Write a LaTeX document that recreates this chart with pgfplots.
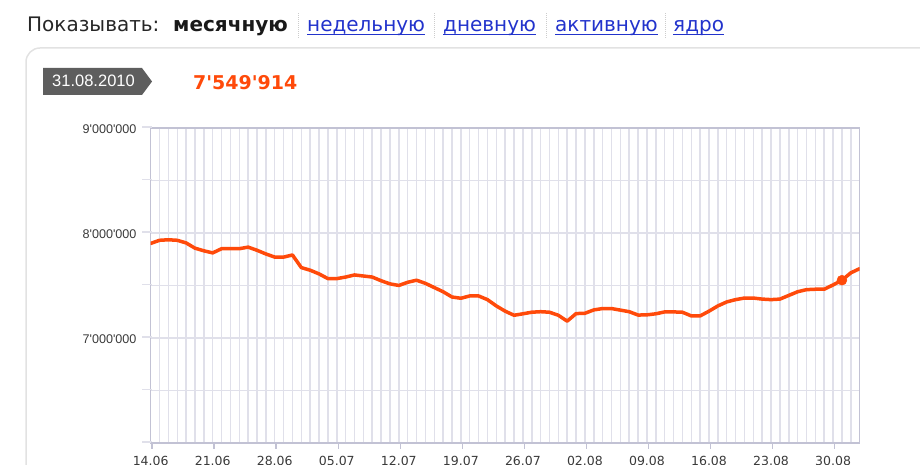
\documentclass[border=0pt]{standalone}
\usepackage{fontspec}
\setmainfont{DejaVu Sans}[Ligatures=TeXOff]
\newfontfamily\arialf{Liberation Sans}[Ligatures=TeXOff]
\usepackage{pgfplots}
\pgfplotsset{compat=1.18}
\usepackage{pgfplotstable}
\definecolor{gridc}{HTML}{E0E0EA}
\definecolor{axc}{HTML}{C2C2D4}
\definecolor{linec}{HTML}{FF4A0A}
\definecolor{linkc}{HTML}{2233CC}
\definecolor{tagc}{HTML}{5E5E5E}
\definecolor{txtc}{HTML}{3A3A3A}
\definecolor{boxc}{HTML}{E2E2E2}
\pgfplotstableread{
d v
0 7900000
1 7930000
2 7935000
3 7930000
4 7905000
5 7855000
6 7830000
7 7810000
8 7850000
9 7850000
10 7850000
11 7865000
12 7835000
13 7800000
14 7770000
15 7770000
16 7790000
17 7670000
18 7645000
19 7610000
20 7565000
21 7565000
22 7580000
23 7600000
24 7590000
25 7580000
26 7545000
27 7515000
28 7500000
29 7530000
30 7550000
31 7520000
32 7480000
33 7440000
34 7390000
35 7378000
36 7400000
37 7400000
38 7365000
39 7305000
40 7255000
41 7216000
42 7230000
43 7245000
44 7250000
45 7245000
46 7216000
47 7160000
48 7232000
49 7235000
50 7267000
51 7280000
52 7280000
53 7265000
54 7250000
55 7218000
56 7220000
57 7230000
58 7248000
59 7248000
60 7245000
61 7210000
62 7210000
63 7255000
64 7305000
65 7343000
66 7365000
67 7380000
68 7380000
69 7370000
70 7365000
71 7370000
72 7405000
73 7440000
74 7460000
75 7464000
76 7464000
77 7505000
78 7549914
79 7620000
80 7660000
}\datatable
\begin{document}
\begin{tikzpicture}[x=1pt,y=1pt]
% header
\node[anchor=base west, inner sep=0pt, font=\fontsize{20}{24}\selectfont, text=black!85] at (27,433) {Показывать:};
\node[anchor=base west, inner sep=0pt, font=\fontsize{20}{24}\selectfont\bfseries, text=black!90] at (173,433) {месячную};
\foreach \x/\w [count=\i] in {307/недельную,443/дневную,555/активную,673/ядро} {
  \node[anchor=base west, inner sep=0pt, font=\fontsize{20}{24}\selectfont, text=linkc] (l\i) at (\x,433) {\w};
  \draw[linkc, line width=1.2pt] ([yshift=-2.5pt]l\i.base west) -- ([yshift=-2.5pt]l\i.base east);
}
\foreach \x in {298,434,546,665} \draw[gray!40, densely dotted, line width=1pt] (\x,427) -- (\x,453);
% box
\draw[boxc, line width=1.5pt, rounded corners=14pt] (26,-20) -- (26,417) -- (960,417);
% tag
\fill[tagc] (43,397) -- (142,397) -- (152,383.5) -- (142,370) -- (43,370) -- cycle;
\node[font=\arialf\fontsize{16.5}{18}\selectfont, text=white, inner sep=0pt] at (93.5,384) {31.08.2010};
\node[anchor=west, inner sep=0pt, font=\fontsize{19}{22}\selectfont\bfseries, text=linec] at (193,382) {7'549'914};
% axis
\begin{axis}[at={(170,21)}, anchor=south west, scale only axis,
  width=709pt, height=315pt,
  xmin=0, xmax=80, ymin=6000000, ymax=9000000,
  xtick={0,7,...,77},
  xticklabels={14.06,21.06,28.06,05.07,12.07,19.07,26.07,02.08,09.08,16.08,23.08,30.08},
  minor xtick={0,1,...,80},
  ytick={7000000,8000000,9000000},
  yticklabels={7'000'000,8'000'000,9'000'000},
  minor ytick={6500000,7500000,8500000},
  scaled y ticks=false,
  grid=both,
  major grid style={gridc, line width=1.5pt},
  minor grid style={gridc, line width=1.5pt},
  major tick length=0pt, minor tick length=0pt,
  axis line style={axc, line width=1.5pt},
  xticklabel style={font=\fontsize{12.5}{14}\selectfont, text=txtc, anchor=base, inner sep=0pt, yshift=-23pt},
  yticklabel style={font=\arialf\fontsize{12.6}{14}\selectfont, text=txtc, anchor=east, inner sep=0pt, xshift=-14pt, yshift=-1.5pt},
]
\addplot[linec, line width=3.5pt, line join=round, line cap=round] table[x=d, y=v] {\datatable};
\addplot[only marks, mark=*, mark size=5pt, color=linec] coordinates {(78,7549914)};
\end{axis}
\foreach \y in {23,75.5,128,180.5,233,285.5,338} \draw[gridc, line width=1.5pt] (142,\y) -- (152,\y);
\foreach \k in {0,...,11} \draw[axc, line width=1.2pt] ({152+62.0375*\k},23) -- ++(0,-7);
\pgfresetboundingbox
\path[use as bounding box] (0,0) rectangle (920,465);
\end{tikzpicture}
\end{document}
